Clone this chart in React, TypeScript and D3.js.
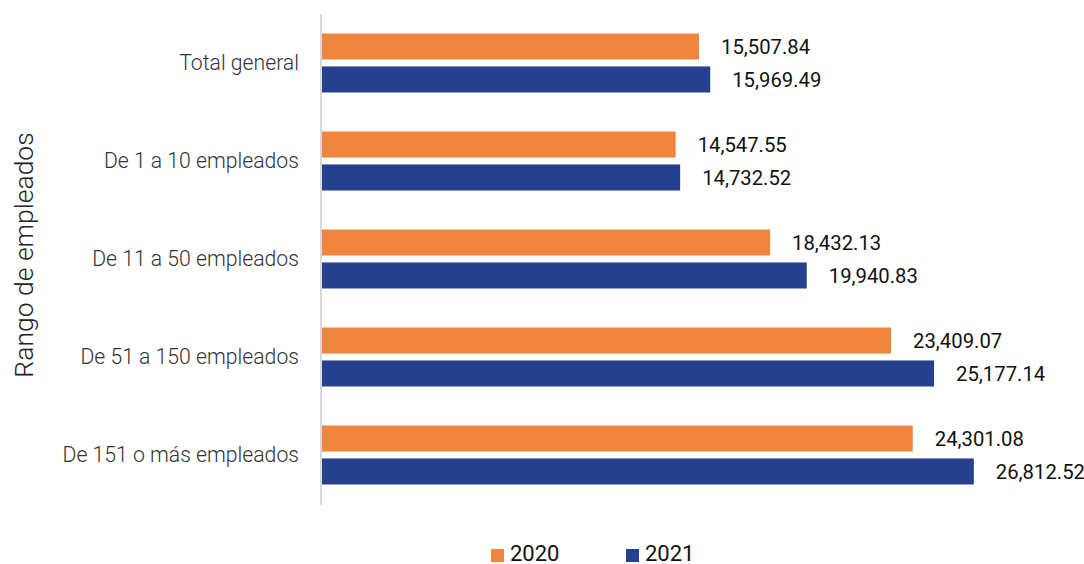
import React from "react";
import * as d3 from "d3";

const categories = [
  "Total general",
  "De 1 a 10 empleados",
  "De 11 a 50 empleados",
  "De 51 a 150 empleados",
  "De 151 o más empleados",
];
const series = ["2020", "2021"];
const values2020 = [15507.84, 14547.55, 18432.13, 23409.07, 24301.08];
const values2021 = [15969.49, 14732.52, 19940.83, 25177.14, 26812.52];
const colors = ["#F2853D", "#24408E"];

const W = 1084;
const H = 564;

export default function App() {
  const x = d3.scaleLinear().domain([0, 30000]).range([322, 322 + 0.02431 * 30000]);
  const y = d3
    .scaleBand<string>()
    .domain(categories)
    .range([14, 504])
    .paddingInner(0.398)
    .paddingOuter(0.199);
  const sub = d3
    .scaleBand<string>()
    .domain(series)
    .range([0, y.bandwidth()])
    .paddingInner(0.21);
  const fmt = d3.format(",.2f");
  const data = [values2020, values2021];

  return (
    <svg
      width={W}
      height={H}
      style={{ position: "absolute", left: 0, top: 0, background: "#fff" }}
      fontFamily="Roboto"
    >
      {categories.map((c, i) =>
        series.map((s, j) => {
          const v = data[j][i];
          const yy = (y(c) as number) + (sub(s) as number);
          return (
            <g key={c + s}>
              <rect x={x(0)} y={yy} width={x(v) - x(0)} height={sub.bandwidth()} fill={colors[j]} />
              <text
                x={x(v) + 22}
                y={yy + sub.bandwidth() / 2}
                dy="0.35em"
                fontSize={20.3}
                fill="#111"
              >
                {fmt(v)}
              </text>
            </g>
          );
        })
      )}
      <line x1={321} x2={321} y1={14} y2={505} stroke="#d9d9d9" strokeWidth={2} />
      {categories.map((c) => (
        <text
          key={c}
          x={299}
          y={(y(c) as number) + y.bandwidth() / 2}
          dy="0.35em"
          textAnchor="end"
          fontSize={21.2}
          fontWeight={300}
          fill="#333"
        >
          {c}
        </text>
      ))}
      <text
        transform={`translate(33,${255}) rotate(-90)`}
        textAnchor="middle"
        fontSize={26.5}
        fontWeight={300}
        fill="#222"
      >
        Rango de empleados
      </text>
      {series.map((s, j) => {
        const lx = j === 0 ? 491 : 626;
        return (
          <g key={s}>
            <rect x={lx} y={549} width={13} height={13} fill={colors[j]} />
            <text x={lx + 19} y={553} dy="0.35em" fontSize={22} fill="#111">
              {s}
            </text>
          </g>
        );
      })}
    </svg>
  );
}
